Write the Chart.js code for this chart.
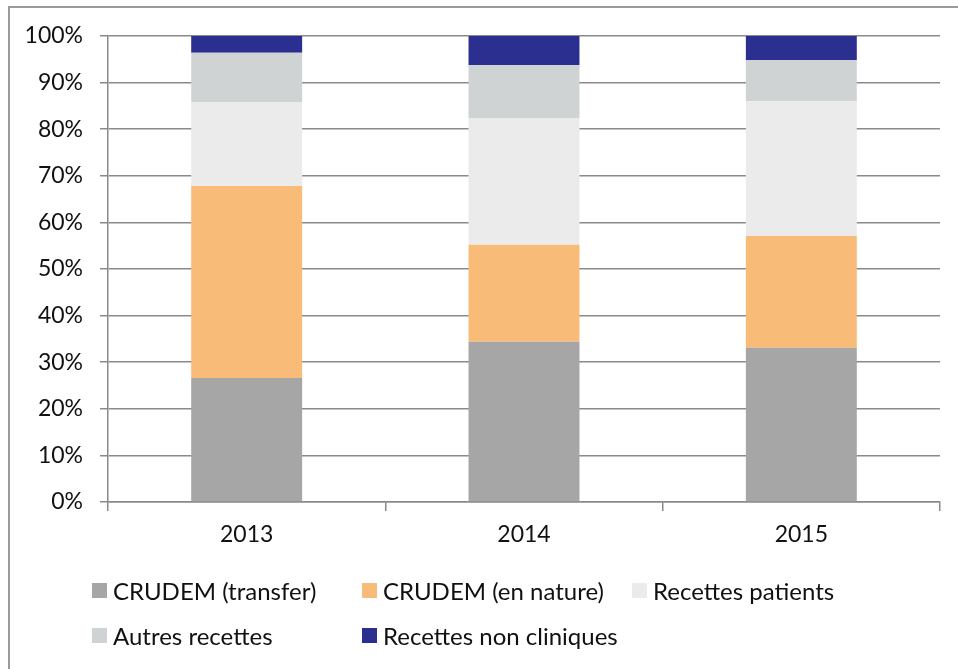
<!DOCTYPE html>
<html lang="fr">
<head>
<meta charset="UTF-8">
<title>Recettes</title>
<script src="https://cdn.jsdelivr.net/npm/chart.js"></script>
<style>
  body { margin: 0; background: #fff; font-family: Lato, "Open Sans", sans-serif; }
  .cadre { position: absolute; left: 8px; top: 6px; width: 980px; height: 700px; border: 2px solid #9a9a9a; }
  #zone { position: absolute; left: 0; top: 0; width: 958px; height: 669px; }
  #legende { position: absolute; left: 92px; top: 568px; width: 830px; }
  .item { display: inline-flex; align-items: center; width: 270px; height: 45px; font-size: 24px; line-height: 30px; color: #111; white-space: nowrap; }
  .item span.carre { display: inline-block; flex: none; width: 15px; height: 15px; margin-right: 6px; }
</style>
</head>
<body>
<div class="cadre"></div>
<div id="zone"><canvas id="graphique" width="958" height="669"></canvas></div>
<div id="legende"></div>

<script>
// Données (en % du total)
const annees = ['2013', '2014', '2015'];
const crudemTransfer = [26.6, 34.4, 33.1];
const crudemNature = [41.2, 20.8, 24.0];
const recettesPatients = [18.0, 27.2, 28.9];
const autresRecettes = [10.6, 11.4, 8.8];
const recettesNonCliniques = [3.6, 6.2, 5.2];
const ticksY = [0, 10, 20, 30, 40, 50, 60, 70, 80, 90, 100];

const series = [
    { label: 'CRUDEM (transfer)', data: crudemTransfer, backgroundColor: '#a6a6a6' },
    { label: 'CRUDEM (en nature)', data: crudemNature, backgroundColor: '#f9bb78' },
    { label: 'Recettes patients', data: recettesPatients, backgroundColor: '#ebebeb' },
    { label: 'Autres recettes', data: autresRecettes, backgroundColor: '#d0d3d4' },
    { label: 'Recettes non cliniques', data: recettesNonCliniques, backgroundColor: '#2b2f8f' }
];

const police = { family: 'Lato, "Open Sans", sans-serif', size: 23 };

const ctx = document.getElementById('graphique').getContext('2d');
const graphique = new Chart(ctx, {
    type: 'bar',
    data: {
        labels: annees,
        datasets: series.map(s => ({
            label: s.label,
            data: s.data,
            backgroundColor: s.backgroundColor,
            borderWidth: 0,
            categoryPercentage: 1,
            barPercentage: 0.4
        }))
    },
    options: {
        responsive: false,
        animation: false,
        layout: { padding: { top: 36, right: 18, left: 0, bottom: 0 } },
        plugins: {
            legend: { display: false },
            tooltip: { enabled: false }
        },
        scales: {
            x: {
                stacked: true,
                afterFit: (scale) => { scale.height = 167; },
                grid: { drawOnChartArea: false, drawTicks: true, tickLength: 9, offset: true, color: '#8a8a8a', lineWidth: 1.5 },
                border: { color: '#8a8a8a', width: 1.5 },
                ticks: { color: '#111', font: police, padding: 10 }
            },
            y: {
                stacked: true,
                min: 0,
                max: 100,
                afterFit: (scale) => { scale.width = 108; },
                afterBuildTicks: (scale) => { scale.ticks = ticksY.map(v => ({ value: v })); },
                grid: { color: '#8a8a8a', lineWidth: 1.5, tickLength: 8 },
                border: { color: '#8a8a8a', width: 1.5 },
                ticks: { color: '#111', font: police, padding: 17, callback: (v) => v + '%' }
            }
        }
    }
});

// Légende en deux lignes, comme l'original
const legende = document.getElementById('legende');
series.forEach(s => {
    const div = document.createElement('div');
    div.className = 'item';
    div.innerHTML = `<span class="carre" style="background:${s.backgroundColor}"></span>${s.label}`;
    legende.appendChild(div);
});
</script>
</body>
</html>
